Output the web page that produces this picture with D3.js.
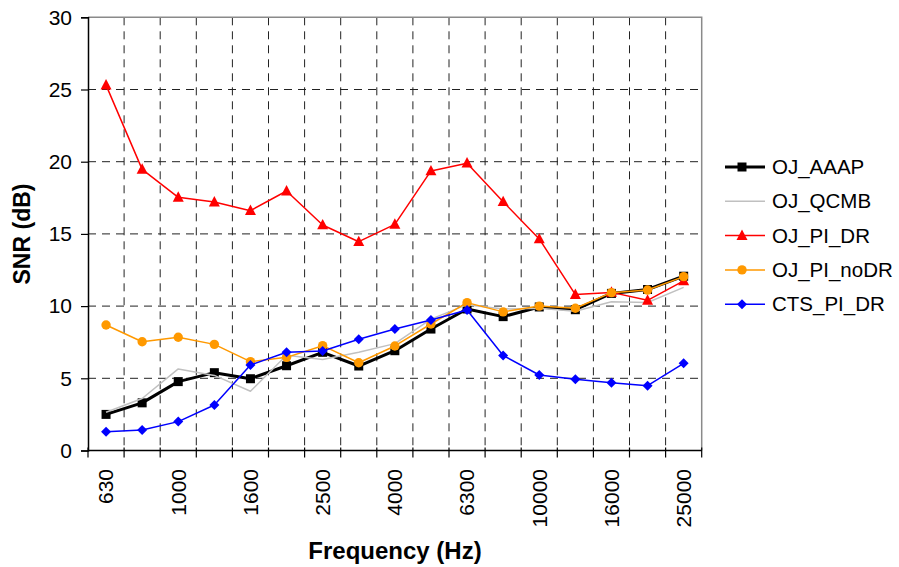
<!DOCTYPE html>
<html>
<head>
<meta charset="utf-8">
<script src="https://cdn.jsdelivr.net/npm/d3@7"></script>
<style>
  html, body { margin: 0; padding: 0; background: #fff; }
  svg { display: block; font-family: "Liberation Sans", Arial, sans-serif; }
</style>
</head>
<body>
<svg id="chart" width="899" height="567"></svg>
<script>
// Third-octave band centre frequencies (Hz)
const bands = ["630", "800", "1000", "1250", "1600", "2000", "2500", "3150", "4000",
               "5000", "6300", "8000", "10000", "12500", "16000", "20000", "25000"];
// Labelled bands on the frequency axis
const bandLabels = ["630", "1000", "1600", "2500", "4000", "6300", "10000", "16000", "25000"];
const yTicks = [0, 5, 10, 15, 20, 25, 30];

// SNR per band (dB)
const ojAAAP   = [2.5, 3.3, 4.77, 5.39, 4.97, 5.87, 6.8, 5.85, 6.91, 8.41, 9.8, 9.27, 9.94, 9.75, 10.88, 11.15, 12.07];
const ojQCMB   = [2.65, 3.6, 5.65, 5.2, 4.1, 6.6, 6.3, 6.8, 7.4, 9.1, 10.1, 9.8, 9.85, 9.65, 10.3, 10.25, 11.3];
const ojPIDR   = [25.3, 19.47, 17.53, 17.21, 16.61, 17.97, 15.62, 14.46, 15.66, 19.36, 19.9, 17.23, 14.65, 10.8, 10.95, 10.4, 11.75];
const ojPInoDR = [8.69, 7.53, 7.84, 7.35, 6.15, 6.45, 7.26, 6.08, 7.24, 8.76, 10.24, 9.6, 10.0, 9.85, 10.93, 11.11, 12.04];
const ctsPIDR  = [1.3, 1.42, 2.0, 3.15, 5.92, 6.8, 6.89, 7.7, 8.41, 9.04, 9.73, 6.58, 5.23, 4.93, 4.7, 4.49, 6.04];

const series = [
  { name: "OJ_AAAP",    values: ojAAAP,   color: "#000000", width: 3,   marker: "square" },
  { name: "OJ_QCMB",    values: ojQCMB,   color: "#c0c0c0", width: 1.5, marker: null },
  { name: "OJ_PI_DR",   values: ojPIDR,   color: "#ff0000", width: 1.5, marker: "triangle" },
  { name: "OJ_PI_noDR", values: ojPInoDR, color: "#ff9900", width: 1.5, marker: "circle" },
  { name: "CTS_PI_DR",  values: ctsPIDR,  color: "#0000ff", width: 1.5, marker: "diamond" }
];

const plot = { left: 88, right: 701.7, top: 17.3, bottom: 450.5 };
const svg = d3.select("#chart");

const x = d3.scaleBand().domain(bands).range([plot.left, plot.right]);
const cx = d => x(d) + x.bandwidth() / 2;
const y = d3.scaleLinear().domain([0, 30]).range([plot.bottom, plot.top]);

// Dashed grid: horizontal at each y tick, vertical at band boundaries
const grid = svg.append("g").attr("stroke", "#222").attr("stroke-width", 1)
  .attr("stroke-dasharray", "8,6");
grid.selectAll("line.h").data(yTicks.filter(t => t > 0 && t < 30)).join("line")
  .attr("x1", plot.left).attr("x2", plot.right)
  .attr("y1", d => y(d)).attr("y2", d => y(d));
grid.selectAll("line.v").data(bands.slice(1)).join("line")
  .attr("x1", d => x(d)).attr("x2", d => x(d))
  .attr("y1", plot.top).attr("y2", plot.bottom);

// Grey frame on top and right
svg.append("path")
  .attr("d", `M${plot.left},${plot.top}H${plot.right}V${plot.bottom}`)
  .attr("fill", "none").attr("stroke", "#8a8a8a").attr("stroke-width", 1.5);

// Y axis
const yAxis = svg.append("g").attr("transform", `translate(${plot.left},0)`)
  .call(d3.axisLeft(y).tickValues(yTicks).tickSize(7).tickPadding(9));
yAxis.select(".domain").attr("stroke", "#000").attr("stroke-width", 1.5);
yAxis.selectAll(".tick line").attr("stroke", "#000").attr("stroke-width", 1.2);
yAxis.selectAll(".tick text").attr("font-size", 21).attr("fill", "#000")
  .attr("font-family", "Liberation Sans, Arial, sans-serif");

// X axis: ticks at band boundaries, labels on alternate bands
const xAxis = svg.append("g");
xAxis.append("line").attr("x1", plot.left).attr("x2", plot.right)
  .attr("y1", plot.bottom).attr("y2", plot.bottom)
  .attr("stroke", "#000").attr("stroke-width", 1.5);
const boundaries = bands.map(b => x(b)).concat([plot.right]);
xAxis.selectAll("line.tk").data(boundaries).join("line")
  .attr("x1", d => d).attr("x2", d => d)
  .attr("y1", plot.bottom - 3).attr("y2", plot.bottom + 7)
  .attr("stroke", "#000").attr("stroke-width", 1.2);
xAxis.selectAll("text").data(bandLabels).join("text")
  .attr("transform", d => `translate(${cx(d)},469) rotate(-90)`)
  .attr("text-anchor", "end").attr("dy", "0.35em")
  .attr("font-size", 21).text(d => d);

// Marker shapes, size = overall width in px
const markerSize = { square: 9, triangle: 11, diamond: 10, circle: 9.4 };
function markerPath(type) {
  const s = markerSize[type], h = s / 2;
  if (type === "square") return `M${-h},${-h}h${s}v${s}h${-s}Z`;
  if (type === "triangle") return `M0,${-s * 0.55}L${h},${s * 0.4}L${-h},${s * 0.4}Z`;
  if (type === "diamond") return `M0,${-h}L${h},0L0,${h}L${-h},0Z`;
  return null;
}
function drawMarker(sel, s) {
  if (s.marker === "circle") {
    sel.append("circle").attr("r", markerSize.circle / 2).attr("fill", s.color);
  } else {
    sel.append("path").attr("d", markerPath(s.marker)).attr("fill", s.color);
  }
}

const line = d3.line().x((d, i) => cx(bands[i])).y(d => y(d));

series.forEach(s => {
  const g = svg.append("g");
  g.append("path").datum(s.values).attr("d", line)
    .attr("fill", "none").attr("stroke", s.color).attr("stroke-width", s.width)
    .attr("stroke-linejoin", "round");
  if (!s.marker) return;
  g.selectAll("g.pt").data(s.values).join("g")
    .attr("transform", (d, i) => `translate(${cx(bands[i])},${y(d)})`)
    .each(function () { drawMarker(d3.select(this), s); });
});

// Legend
const legend = svg.append("g");
series.forEach((s, i) => {
  const ly = 167 + i * 34.3;
  const row = legend.append("g").attr("transform", `translate(0,${ly})`);
  row.append("line").attr("x1", 725).attr("x2", 765).attr("y1", 0).attr("y2", 0)
    .attr("stroke", s.color).attr("stroke-width", s.width);
  if (s.marker) drawMarker(row.append("g").attr("transform", "translate(742,0)"), s);
  row.append("text").attr("x", 772).attr("dy", "0.35em")
    .attr("font-size", 20.5).text(s.name);
});

// Axis titles
svg.append("text").attr("x", 395).attr("y", 559).attr("text-anchor", "middle")
  .attr("font-size", 24).attr("font-weight", "bold").text("Frequency (Hz)");
svg.append("text").attr("transform", "translate(30,234) rotate(-90)")
  .attr("text-anchor", "middle").attr("font-size", 23).attr("font-weight", "bold")
  .text("SNR (dB)");
</script>
</body>
</html>
